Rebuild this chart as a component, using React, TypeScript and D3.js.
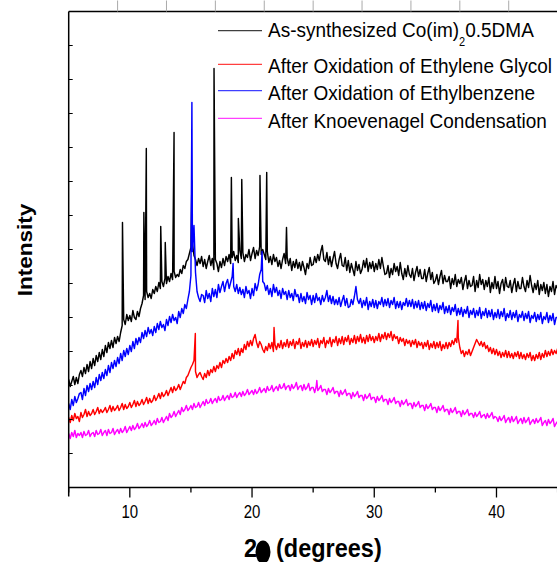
import React from 'react';
import * as d3 from 'd3';

// ---- data (2θ grid starts at 5°, step 0.125°) ----
const X_START = 5;
const X_STEP = 0.125;

const blackVals = [
  108,101,106,111,103,110,104,113,
  117,111,120,114,123,116,126,119,
  129,122,132,126,135,128,138,131,
  142,135,145,139,147,140,150,144,
  151,146,155,162,168,163,173,167,
  172,166,177,170,168,176,171,179,
  184,192,188,196,190,194,189,198,
  194,201,196,205,199,206,201,209,
  204,211,206,214,208,216,210,213,
  211,218,214,222,219,226,228,234,
  240,244,232,228,222,229,224,231,
  221,228,219,226,232,222,229,218,
  228,224,216,226,220,229,222,231,
  226,233,224,230,236,227,232,225,
  237,229,235,226,233,230,238,227,
  234,240,229,237,232,241,233,238,
  233,228,236,225,231,223,233,226,
  230,221,227,219,228,234,224,230,
  222,229,217,226,220,228,219,225,
  217,226,220,213,224,219,230,222,
  223,231,225,233,227,236,242,228,
  226,235,223,231,221,229,236,224,
  219,228,234,222,221,230,217,227,
  215,224,218,212,226,217,223,214,
  218,227,220,229,216,225,219,226,
  216,224,218,228,219,230,221,213,
  214,222,210,219,213,224,216,221,
  212,225,214,208,219,211,222,213,
  210,219,207,215,221,211,218,209,
  209,218,206,214,220,208,215,204,
  207,213,203,211,217,204,212,206,
  206,211,199,209,203,213,201,208,
  204,210,198,206,212,199,207,201,
  202,211,196,207,200,213,203,208,
  198,207,201,210,195,205,199,211,
  199,206,194,204,208,197,210,201,
  200,207,195,203,209,196,206,199,
  199,210,201,196,207,200,212,202,
  195,204,198,207,193,203,197,205,
  194,203,191,201,196,206,193,202,
  199,
];
const blackPeakX = [9.4, 11.15, 11.35, 12.53, 12.9, 13.62, 15.08, 16.89, 18.31, 18.88, 19.16, 20.65, 21.2, 22.82];
const blackPeakY = [265, 275, 339, 261, 245, 355, 307, 419, 310, 269, 308, 312, 315, 260];

const redVals = [
  70,65,72,67,74,69,71,66,
  75,70,73,78,71,76,72,74,
  78,73,76,80,74,78,75,77,
  80,75,78,82,76,81,77,79,
  82,77,80,84,78,83,79,81,
  85,80,83,87,81,86,82,84,
  88,83,86,90,84,89,85,87,
  92,87,90,94,89,95,91,93,
  97,92,96,100,95,101,97,99,
  103,98,102,106,104,110,112,116,
  120,123,127,116,110,113,115,111,
  108,114,110,117,112,118,115,121,
  116,122,119,125,120,127,124,129,
  125,131,127,134,129,137,133,139,
  132,139,135,143,138,146,141,147,
  142,149,153,145,140,146,143,138,
  135,141,137,144,139,145,136,143,
  138,144,140,147,139,145,141,148,
  140,146,142,148,139,146,143,149,
  139,145,141,147,140,146,142,148,
  141,147,143,149,140,147,144,150,
  140,147,144,150,141,148,145,151,
  142,149,144,151,143,150,146,152,
  143,149,145,152,144,151,146,153,
  145,150,144,152,146,153,147,151,
  145,151,147,154,146,153,149,155,
  148,154,150,156,147,153,149,151,
  144,150,146,149,142,148,144,147,
  141,147,143,148,140,146,142,145,
  139,145,141,147,138,144,140,146,
  139,145,140,146,137,143,139,145,
  139,145,141,147,143,149,145,150,
  140,134,137,131,136,133,138,132,
  136,140,144,148,145,142,146,141,
  145,139,142,136,140,134,139,133,
  138,132,136,130,135,131,137,130,
  136,130,134,129,135,131,136,129,
  135,129,133,128,134,130,135,127,
  132,127,133,129,135,128,134,130,
  137,131,136,132,138,133,137,134,
  139,
];
const redPeakX = [15.36, 21.8, 36.85];
const redPeakY = [154, 160, 167];

const blueVals = [
  84,78,88,82,91,85,89,94,
  95,88,99,92,102,96,104,98,
  106,100,110,103,113,107,115,109,
  118,112,122,115,125,119,127,121,
  130,124,134,127,137,131,139,133,
  142,136,146,139,149,143,150,145,
  155,149,157,151,160,154,158,152,
  161,155,164,158,166,160,163,157,
  168,162,171,165,173,167,170,164,
  176,170,179,174,183,179,188,196,
  212,236,262,215,196,190,186,193,
  192,185,197,189,194,186,199,191,
  198,190,203,195,201,206,196,204,
  208,199,205,211,201,196,203,194,
  200,193,198,190,201,194,197,189,
  199,192,204,197,203,213,218,206,
  204,197,202,193,199,191,203,195,
  200,192,197,189,199,193,196,188,
  197,190,194,187,198,191,193,185,
  194,186,191,184,195,188,192,183,
  192,185,194,187,190,183,192,186,
  190,197,186,192,184,191,183,188,
  183,190,181,187,192,182,189,180,
  181,188,183,191,201,188,184,189,
  180,187,182,190,178,186,181,188,
  180,187,179,186,183,190,181,188,
  182,189,180,187,183,190,179,186,
  180,186,178,185,182,189,181,187,
  181,188,179,186,180,187,178,185,
  179,186,177,184,180,187,176,183,
  177,184,175,182,178,185,174,181,
  175,182,173,180,176,183,172,179,
  173,180,171,178,174,181,170,177,
  173,179,170,177,172,180,169,176,
  172,179,170,177,171,178,168,175,
  170,178,169,176,171,179,167,174,
  170,177,168,175,170,177,166,173,
  170,176,167,174,169,176,165,172,
  169,175,166,173,168,175,164,171,
  168,175,165,172,167,174,163,170,
  170,
];
const bluePeakX = [15.08, 18.45, 20.82];
const bluePeakY = [385, 224, 236];

const magentaVals = [
  54,49,55,51,57,50,54,52,
  55,50,56,52,53,57,51,54,
  55,51,57,53,54,58,52,55,
  57,52,58,54,55,59,53,56,
  58,54,59,55,57,61,55,58,
  61,57,62,58,60,64,59,61,
  64,60,65,61,63,67,62,64,
  67,63,69,65,66,70,65,68,
  71,67,74,70,72,76,71,74,
  77,73,80,76,78,82,77,79,
  82,78,84,80,81,85,80,83,
  86,82,88,84,85,89,84,87,
  89,85,91,87,88,92,87,90,
  92,88,94,90,91,95,90,93,
  95,91,96,92,94,98,93,95,
  97,93,98,94,96,100,95,97,
  99,95,101,97,98,102,96,99,
  101,97,103,99,100,104,98,101,
  102,97,103,99,101,105,98,101,
  102,97,103,98,100,104,97,100,
  100,95,101,97,99,102,96,98,
  98,93,99,95,97,100,94,96,
  96,91,97,93,95,98,92,94,
  94,89,95,91,93,96,90,92,
  92,87,93,89,91,94,88,90,
  90,85,91,87,89,92,86,88,
  88,83,89,85,87,90,84,86,
  86,81,87,83,85,88,82,84,
  84,79,85,81,83,86,80,82,
  82,77,83,79,81,84,78,80,
  80,75,81,77,79,82,76,78,
  78,73,79,75,77,80,74,76,
  76,71,77,73,75,78,72,74,
  74,70,75,71,73,76,70,72,
  73,69,74,70,72,75,69,71,
  70,66,71,67,69,72,65,68,
  70,65,71,66,68,71,64,67,
  69,64,70,65,67,70,63,66,
  68,64,69,65,67,70,62,65,
  67,62,68,64,66,69,61,64,
  66,
];
const magentaPeakX = [25.3];
const magentaPeakY = [107];

const seriesNames = [
  'As-synthesized Co(im)',
  'After Oxidation of Ethylene Glycol',
  'After Oxidation of Ethylbenzene',
  'After Knoevenagel Condensation',
];
const seriesColors = ['#000000', '#ff0000', '#0000ff', '#ff00ff'];

const xMajorTicks = [10, 20, 30, 40];
const xAllTicks = [5, 10, 15, 20, 25, 30, 35, 40, 45];
const xTopTicks = [9, 13, 17, 21, 25, 29, 33, 37, 41, 45];
const yTicks = [34, 68, 102, 136, 170, 204, 238, 272, 306, 340, 374, 408, 442];

const FONT = "'Liberation Sans', Arial, sans-serif";
const SY = 1.1;

function buildPoints(vals: number[], px: number[], py: number[]): [number, number][] {
  const pts: [number, number][] = vals.map((v, i) => [X_START + i * X_STEP, v]);
  px.forEach((xv, i) => pts.push([xv, py[i]]));
  pts.sort((a, b) => a[0] - b[0]);
  return pts;
}

export default function App() {
  const L = 68.7, R = 557.6, T = 11.5, B = 487.5;
  const x = d3.scaleLinear().domain([5, 45]).range([L, R]);
  const y = d3.scaleLinear().domain([0, 476]).range([B, T]);
  const line = d3.line<[number, number]>().x(d => x(d[0])).y(d => y(d[1]));

  const series = [
    buildPoints(blackVals, blackPeakX, blackPeakY),
    buildPoints(redVals, redPeakX, redPeakY),
    buildPoints(blueVals, bluePeakX, bluePeakY),
    buildPoints(magentaVals, magentaPeakX, magentaPeakY),
  ];

  const legendY = [30.7, 64.3, 90.7, 118.3];
  const legendBase = [37.3, 72.7, 100, 127.7];

  return (
    <svg width={557} height={562} style={{ position: 'absolute', left: 0, top: 0, background: '#fff' }}
      fontFamily={FONT}>
      <defs>
        <clipPath id="plot">
          <rect x={L} y={T} width={557 - L} height={B - T} />
        </clipPath>
      </defs>
      <rect x={0} y={0} width={557} height={562} fill="#fff" />
      <g clipPath="url(#plot)">
        {series.map((pts, i) => (
          <path key={i} d={line(pts) || ''} fill="none" stroke={seriesColors[i]} strokeWidth={1.45}
            strokeLinejoin="round" />
        ))}
      </g>
      {/* frame */}
      <line x1={L} y1={T} x2={L} y2={B + 9} stroke="#000" strokeWidth={1.5} />
      <line x1={L} y1={B} x2={557} y2={B} stroke="#000" strokeWidth={1.5} />
      <line x1={L} y1={T} x2={557} y2={T} stroke="#000" strokeWidth={1.5} />
      {/* y ticks (inward) */}
      {yTicks.map(t => (
        <line key={t} x1={L} x2={L + 4} y1={y(t)} y2={y(t)} stroke="#000" strokeWidth={1} />
      ))}
      {/* top ticks */}
      {xTopTicks.map(t => (
        <line key={t} x1={x(t)} x2={x(t)} y1={T} y2={T - 11} stroke="#aaa" strokeWidth={1} />
      ))}
      {/* bottom ticks */}
      {xAllTicks.map(t => (
        <line key={t} x1={x(t)} x2={x(t)} y1={B} y2={B + (xMajorTicks.includes(t) ? 10 : 5)}
          stroke="#000" strokeWidth={1.3} />
      ))}
      {xMajorTicks.map(t => (
        <text key={t} transform={`translate(${x(t)},518) scale(1,1.2)`} textAnchor="middle"
          fontSize={15} fill="#000">{t}</text>
      ))}
      {/* legend */}
      {seriesNames.map((n, i) => (
        <g key={n}>
          <line x1={218} x2={262} y1={legendY[i]} y2={legendY[i]} stroke={seriesColors[i]}
            strokeWidth={1.2} opacity={0.75} />
          <text transform={`translate(268,${legendBase[i]}) scale(1,${SY})`} fontSize={19} fill="#000">
            {n}
            {i === 0 && <tspan fontSize={11} dy={7.5}>2</tspan>}
            {i === 0 && <tspan fontSize={19} dy={-7.5}>0.5DMA</tspan>}
          </text>
        </g>
      ))}
      {/* axis titles */}
      <text transform={`translate(32,250) scale(1,${SY}) rotate(-90)`} textAnchor="middle"
        fontSize={20.5} fontWeight="bold" fill="#000">Intensity</text>
      <text transform={`translate(244,557) scale(1,${SY})`} fontSize={23.5} fontWeight="bold" fill="#000">2</text>
      <ellipse cx={263} cy={552} rx={7.5} ry={11.5} fill="#000" />
      <text transform={`translate(276,557) scale(1,${SY})`} fontSize={23.5} fontWeight="bold" fill="#000">(degrees)</text>
    </svg>
  );
}
